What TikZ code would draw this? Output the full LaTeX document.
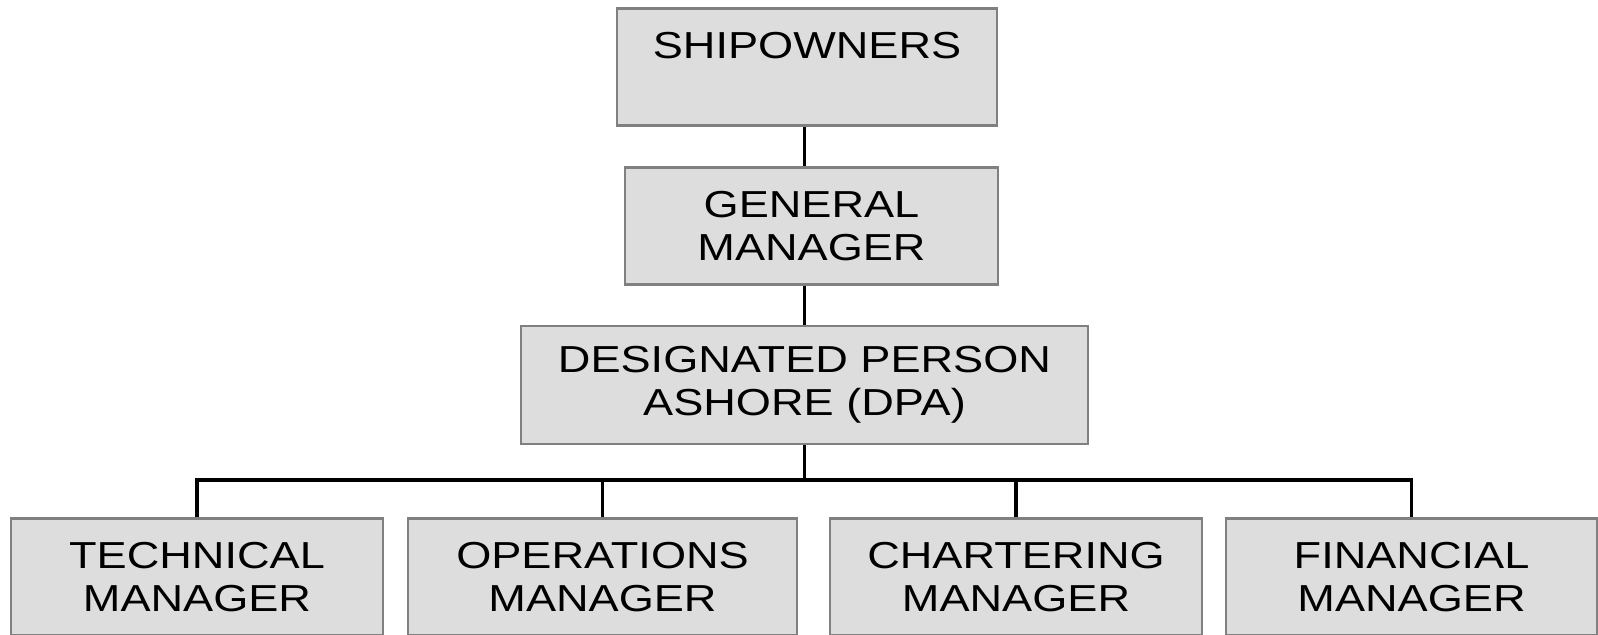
\documentclass[tikz,border=0pt]{standalone}
\usepackage{fontspec}
\setmainfont{Liberation Sans}[FakeStretch=1.2]
\definecolor{boxFill}{RGB}{221,221,221}
\definecolor{boxLine}{RGB}{128,128,128}

\begin{document}
\begin{tikzpicture}[%%
  x=0.5pt,y=-0.5pt,%%
  boxStyle/.style={draw=boxLine,fill=boxFill,line width=1.4pt,%%
    minimum height=58.5pt,inner sep=0pt,align=center,%%
    font=\fontsize{18.8}{21.5}\selectfont},%%
  lineStyle/.style={-,line width=1.7pt}%%
]
%%
%%
\pgfmathsetmacro{\ytop}{67}
\pgfmathsetmacro{\ygm}{226}
\pgfmathsetmacro{\ydpa}{385}
\pgfmathsetmacro{\ylow}{577}
\pgfmathsetmacro{\ybus}{480}
%%
\useasboundingbox (0,0) rectangle (1598,634);
%%
%% The upper chain of boxes.
\node[boxStyle,minimum width=190pt] (ship) at (807,\ytop) {SHIPOWNERS\\~};
\node[boxStyle,minimum width=186.5pt] (gm) at (811.5,\ygm) {GENERAL\\MANAGER};
\node[boxStyle,minimum width=283.5pt,minimum height=59pt] (dpa) at (804.5,\ydpa)
  {DESIGNATED PERSON\\ASHORE (DPA)};
%%
%% The managers at the bottom.
\node[boxStyle,minimum width=186pt] (tech) at (197,\ylow) {TECHNICAL\\MANAGER};
\node[boxStyle,minimum width=194.5pt] (ops) at (602.5,\ylow) {OPERATIONS\\MANAGER};
\node[boxStyle,minimum width=186pt] (chart) at (1016,\ylow) {CHARTERING\\MANAGER};
\node[boxStyle,minimum width=185.5pt] (fin) at (1411.5,\ylow) {FINANCIAL\\MANAGER};
%%
%% Join the upper boxes.
\draw[lineStyle] (dpa.north |- ship.south) -- (dpa.north |- gm.north);
\draw[lineStyle] (dpa.north |- gm.south) -- (dpa.north);
%%
%% The bus to the managers.
\coordinate (bus) at (804.5,\ybus);
\draw[lineStyle] (dpa.south) -- (bus);
\draw[lineStyle] (tech.north) |- (bus) -| (fin.north);
\draw[lineStyle] (ops.north) -- (ops.north |- bus);
\draw[lineStyle] (chart.north) -- (chart.north |- bus);
\end{tikzpicture}
\end{document}
